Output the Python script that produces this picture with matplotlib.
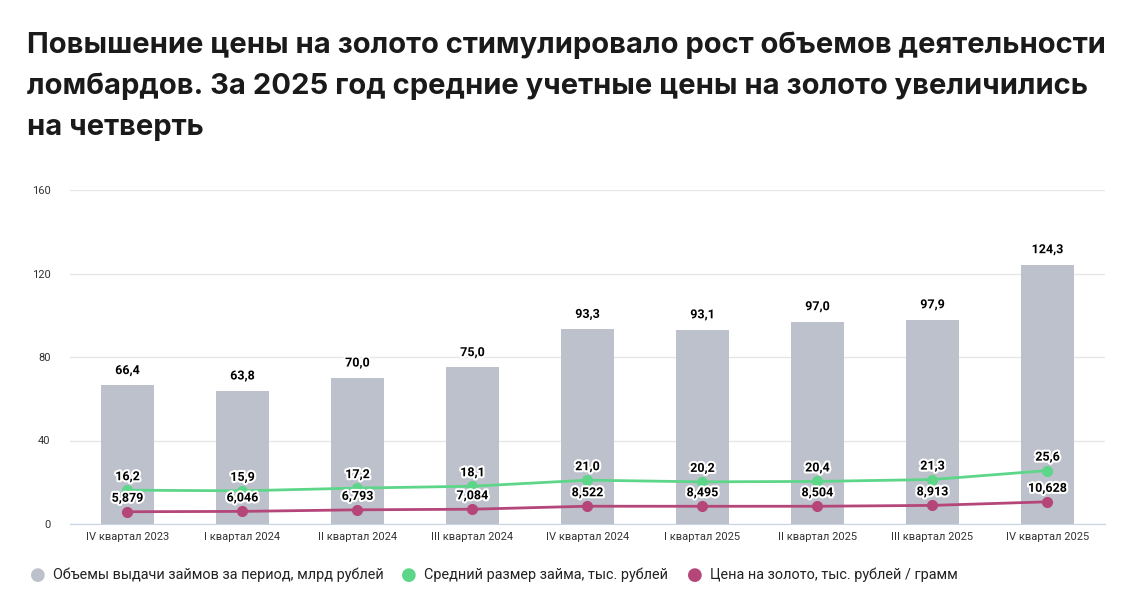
import matplotlib
matplotlib.use("Agg")
import matplotlib.pyplot as plt
import matplotlib.patheffects as pe
import numpy as np

quarters = ["IV квартал 2023", "I квартал 2024", "II квартал 2024", "III квартал 2024",
            "IV квартал 2024", "I квартал 2025", "II квартал 2025", "III квартал 2025",
            "IV квартал 2025"]
volume = [66.4, 63.8, 70.0, 75.0, 93.3, 93.1, 97.0, 97.9, 124.3]
avg_loan = [16.2, 15.9, 17.2, 18.1, 21.0, 20.2, 20.4, 21.3, 25.6]
gold_price = [5.879, 6.046, 6.793, 7.084, 8.522, 8.495, 8.504, 8.913, 10.628]

c_bar = "#BDC1CC"
c_green = "#5ED68A"
c_mag = "#B5467A"

plt.rcParams["font.family"] = ["Roboto", "DejaVu Sans"]

fig = plt.figure(figsize=(11.43, 6), dpi=100)
ax = fig.add_axes([70/1143, 1-524/600, 1035/1143, 334/600])

x = np.arange(len(quarters))
ax.bar(x, volume, width=0.46, color=c_bar, zorder=2)
ax.plot(x, avg_loan, color=c_green, lw=2, marker="o", ms=7, zorder=3)
ax.plot(x, gold_price, color=c_mag, lw=2, marker="o", ms=7, zorder=3)

stroke = [pe.withStroke(linewidth=3, foreground="white")]
def fmt(v, nd):
    return f"{v:.{nd}f}".replace(".", ",")

for i in x:
    ax.annotate(fmt(volume[i], 1), (i, volume[i]), xytext=(0, 6), textcoords="offset points",
                ha="center", va="bottom", fontsize=9, fontweight="bold", path_effects=stroke, zorder=5)
    ax.annotate(fmt(avg_loan[i], 1), (i, avg_loan[i]), xytext=(0, 5), textcoords="offset points",
                ha="center", va="bottom", fontsize=9, fontweight="bold", path_effects=stroke, zorder=5)
    ax.annotate(fmt(gold_price[i], 3), (i, gold_price[i]), xytext=(0, 5), textcoords="offset points",
                ha="center", va="bottom", fontsize=9, fontweight="bold", path_effects=stroke, zorder=5)

ax.set_xlim(-0.5, len(quarters) - 0.5)
ax.set_ylim(0, 160)
ax.set_yticks([0, 40, 80, 120, 160])
ax.set_xticks(x)
ax.set_xticklabels(quarters, fontsize=8, color="#333333")
ax.tick_params(axis="y", labelsize=8, colors="#333333", length=0, pad=14)
ax.tick_params(axis="x", length=0, pad=6)
ax.grid(axis="y", color="#E6E6E6", lw=1, zorder=0)
for s in ["top", "right", "left"]:
    ax.spines[s].set_visible(False)
ax.spines["bottom"].set_color("#C8D3E3")

title = ("Повышение цены на золото стимулировало рост объемов деятельности\n"
         "ломбардов. За 2025 год средние учетные цены на золото увеличились\n"
         "на четверть")
fig.text(27/1143, 1-31/600, title, fontsize=21, fontweight="bold", va="top", ha="left",
         linespacing=1.65, color="#1a1a1a", family=["Inter", "DejaVu Sans"])

legend_items = [("Объемы выдачи займов за период, млрд рублей", c_bar, 38),
                ("Средний размер займа, тыс. рублей", c_green, 409),
                ("Цена на золото, тыс. рублей / грамм", c_mag, 695)]
for label, col, px in legend_items:
    fig.text(px/1143, 1-575/600, "●", color=col, fontsize=13, va="center", ha="center")
    fig.text((px+15)/1143, 1-575/600, label, fontsize=10.4, va="center", ha="left", color="#222222")

fig.savefig("out.png", dpi=100)
